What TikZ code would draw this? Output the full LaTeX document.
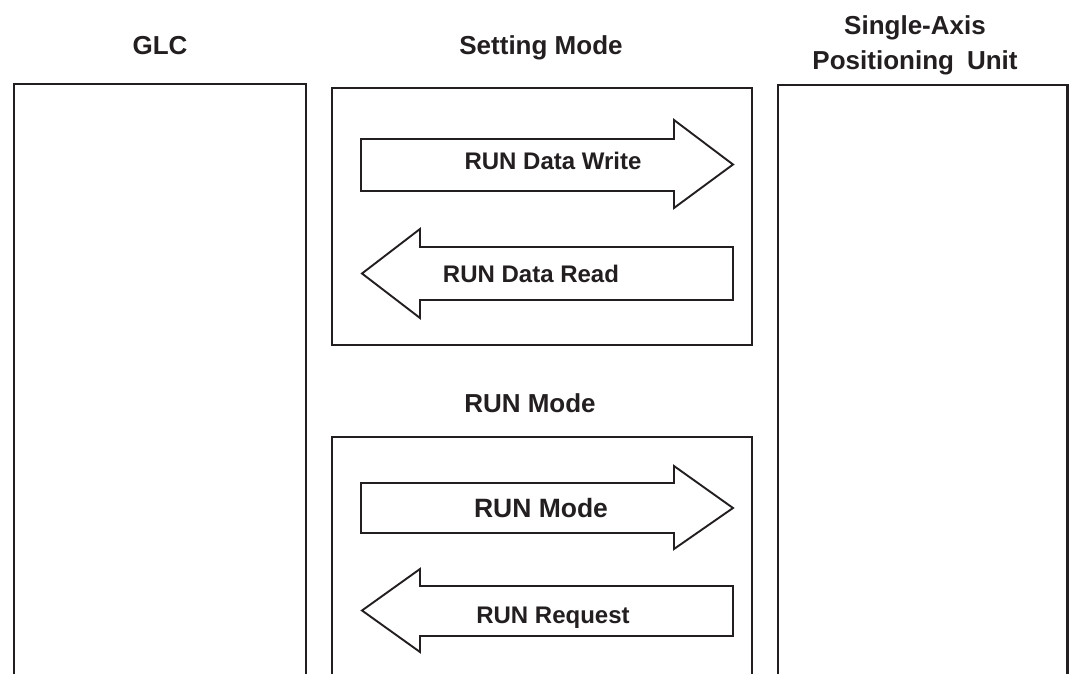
\documentclass[tikz,border=0pt]{standalone}
\usepackage{fontspec}
\setmainfont{Liberation Sans}
\definecolor{ink}{HTML}{231F20}
\tikzset{
  frame/.style={draw=ink, line width=2.6bp, line join=miter},
  bigarrow/.style={draw=ink, line width=1.9bp, line join=miter, fill=white},
  head/.style={font=\fontsize{26bp}{30bp}\selectfont\bfseries, text=ink, anchor=base, inner sep=0pt},
  lbl/.style={font=\fontsize{24bp}{28bp}\selectfont\bfseries, text=ink, anchor=base, inner sep=0pt},
  lblbig/.style={font=\fontsize{26.5bp}{30bp}\selectfont\bfseries, text=ink, anchor=base, inner sep=0pt}
}
\begin{document}
\begin{tikzpicture}[x=1bp, y=-1bp]
\useasboundingbox (0,0) rectangle (1069,674);
% column headings
\node[head] (glc) at (160,55) {GLC};
\node[head] (setmode) at (541,55) {Setting Mode};
\node[head] (single) at (915,35) {Single-Axis};
\node[head] (posunit) at (915,70) {Positioning\hspace{0.5em}Unit};
% side boxes (open at the bottom)
\draw[frame] (14,674) -- (14,84) -- (306,84) -- (306,674);
\draw[frame] (778,674) -- (778,85) -- (1067.5,85) -- (1067.5,674);
% setting mode box
\draw[frame] (332,88) rectangle (752,345);
% RUN mode heading and box
\node[head] (runmodehead) at (530,412) {RUN Mode};
\draw[frame] (332,674) -- (332,437) -- (752,437) -- (752,674);
% arrows in setting mode box
\draw[bigarrow] (361,139) -- (674,139) -- (674,120) -- (733,164.5) -- (674,208) -- (674,191) -- (361,191) -- cycle;
\node[lbl] (write) at (553,170) {RUN Data Write};
\draw[bigarrow] (733,247) -- (420,247) -- (420,229) -- (362,273.5) -- (420,318) -- (420,300) -- (733,300) -- cycle;
\node[lbl] (read) at (531,282.5) {RUN Data Read};
% arrows in RUN mode box
\draw[bigarrow] (361,483) -- (674,483) -- (674,466) -- (733,508) -- (674,549) -- (674,533) -- (361,533) -- cycle;
\node[lblbig] (runmode) at (541,517) {RUN Mode};
\draw[bigarrow] (733,586) -- (420,586) -- (420,569) -- (362,610.5) -- (420,652) -- (420,636) -- (733,636) -- cycle;
\node[lbl] (request) at (553,623) {RUN Request};
\end{tikzpicture}
\end{document}
